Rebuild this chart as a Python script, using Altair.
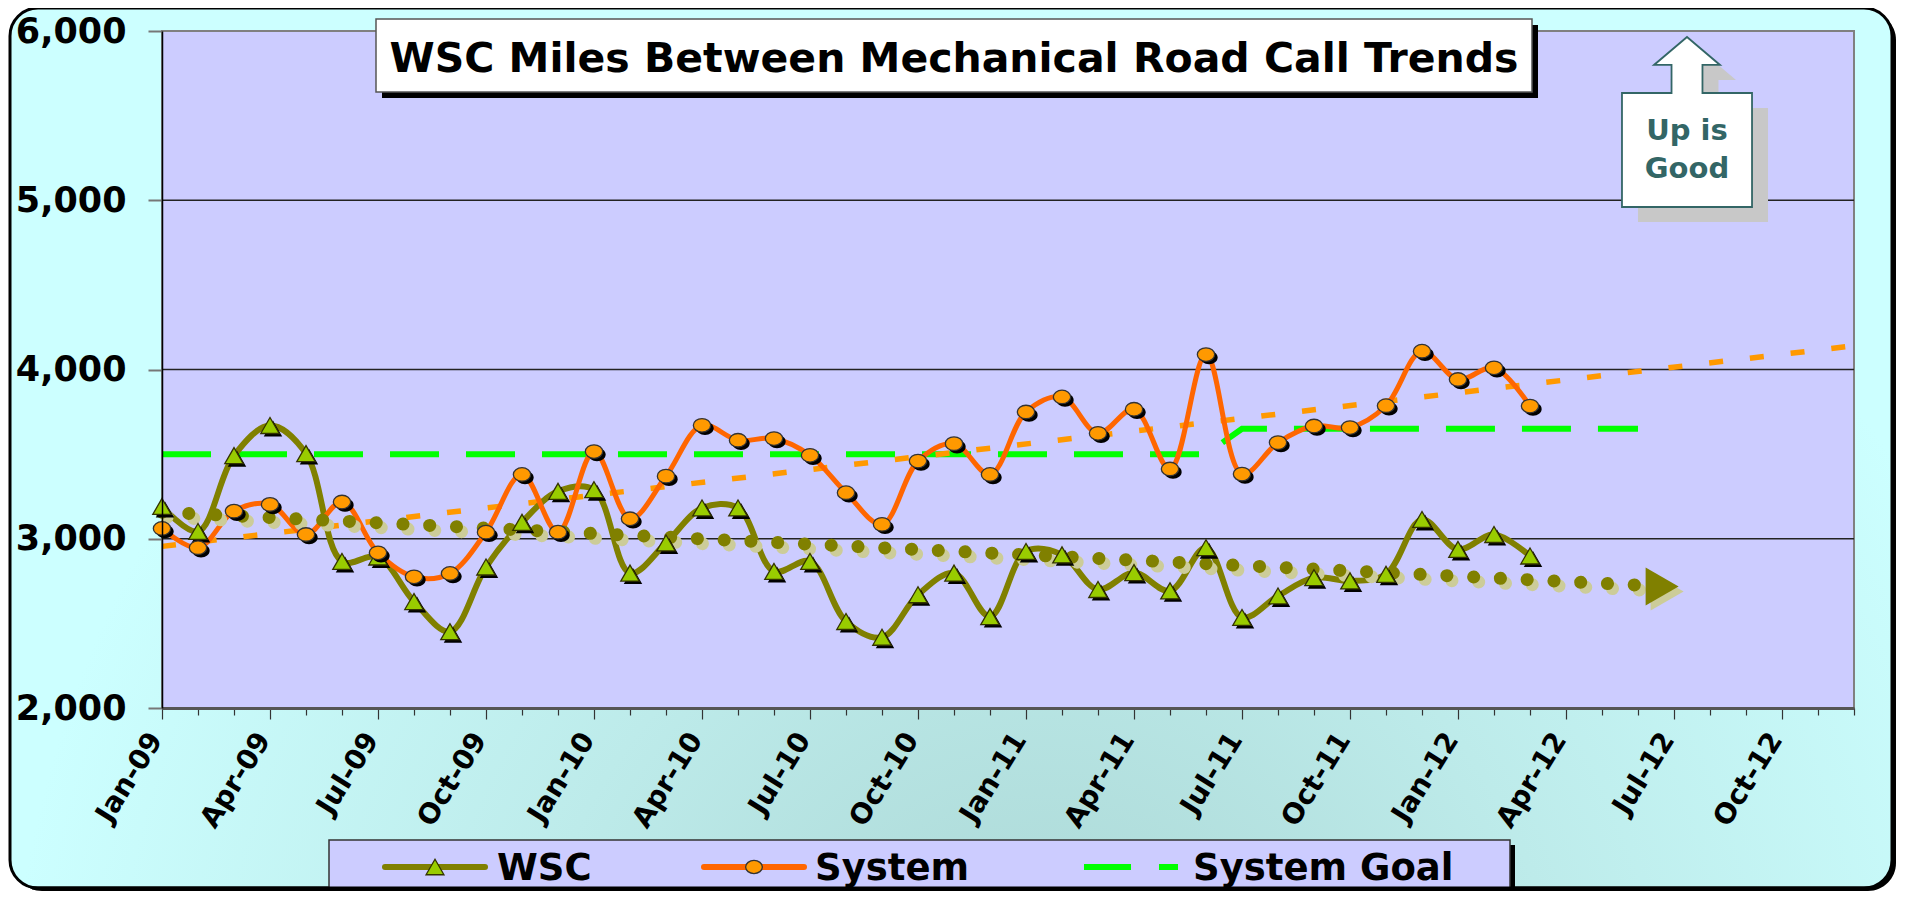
import json
import altair as alt
import pandas as pd

# ---------------- data ----------------
month_labels = [
    "Jan-09", "Feb-09", "Mar-09", "Apr-09", "May-09", "Jun-09", "Jul-09", "Aug-09", "Sep-09", "Oct-09", "Nov-09", "Dec-09",
    "Jan-10", "Feb-10", "Mar-10", "Apr-10", "May-10", "Jun-10", "Jul-10", "Aug-10", "Sep-10", "Oct-10", "Nov-10", "Dec-10",
    "Jan-11", "Feb-11", "Mar-11", "Apr-11", "May-11", "Jun-11", "Jul-11", "Aug-11", "Sep-11", "Oct-11", "Nov-11", "Dec-11",
    "Jan-12", "Feb-12", "Mar-12", "Apr-12", "May-12", "Jun-12", "Jul-12", "Aug-12", "Sep-12", "Oct-12", "Nov-12", "Dec-12",
]
wsc_values = [3191, 3043, 3491, 3669, 3503, 2866, 2892, 2629, 2451, 2833, 3097, 3280,
              3290, 2797, 2975, 3182, 3182, 2807, 2866, 2511, 2418, 2669, 2797, 2540,
              2925, 2905, 2700, 2800, 2692, 2947, 2535, 2662, 2770, 2751, 2790, 3114,
              2937, 3025, 2898]
system_values = [3061, 2947, 3163, 3203, 3025, 3217, 2917, 2775, 2795, 3039, 3380, 3039,
                 3515, 3118, 3370, 3670, 3582, 3592, 3493, 3272, 3085, 3459, 3562, 3380,
                 3749, 3838, 3623, 3765, 3412, 4088, 3382, 3568, 3666, 3657, 3786, 4108,
                 3941, 4010, 3784]
goal_values = [3500] * 30 + [3650] * 12
system_trend_months = [0, 47]
system_trend_values = [2955, 4140]
wsc_trend_months = [0, 41.2]
wsc_trend_values = [3157, 2724]
wsc_arrow_month = [41.67]
wsc_arrow_value = [2718]
gridline_values = [3000, 4000, 5000]
y_ticks = [2000, 3000, 4000, 5000, 6000]

title_text = "WSC Miles Between Mechanical Road Call Trends"
legend_names = ["WSC", "System", "System Goal"]

# ---------------- styling ----------------
FONT = "DejaVu Sans"
W, H = 1692, 677
OLIVE = "#808000"
LIME = "#99cc00"
ORANGE_LINE = "#ff6600"
ORANGE_FILL = "#ff9900"
GREEN = "#00ff00"

wsc_df = pd.DataFrame({"m": list(range(len(wsc_values))), "v": wsc_values})
sys_df = pd.DataFrame({"m": list(range(len(system_values))), "v": system_values})
goal_df = pd.DataFrame({"m": list(range(len(goal_values))), "v": goal_values})
strend_df = pd.DataFrame({"m": system_trend_months, "v": system_trend_values})
wtrend_df = pd.DataFrame({"m": wsc_trend_months, "v": wsc_trend_values})
arrow_df = pd.DataFrame({"m": wsc_arrow_month, "v": wsc_arrow_value})
grid_df = pd.DataFrame({"v": gridline_values})

label_expr = ("datum.value % 3 === 0 ? " + json.dumps(month_labels) + "[datum.value] : ''")

x_enc = alt.X(
    "m:Q",
    scale=alt.Scale(domain=[0, 47], nice=False, zero=False),
    axis=alt.Axis(
        values=list(range(48)), labelExpr=label_expr, labelAngle=-58,
        labelAlign="right", labelBaseline="middle", labelFont=FONT,
        labelFontSize=28, labelFontWeight="bold", labelColor="black",
        labelOverlap=False, labelFlush=False, labelPadding=16, labelOffset=-6,
        tickSize={"condition": {"test": "datum.value % 3 === 0", "value": 11}, "value": 7},
        tickColor="#333333", tickWidth=1.2,
        domainColor="#555555", domainWidth=3, grid=False, title=None, zindex=1,
    ),
)
y_enc = alt.Y(
    "v:Q",
    scale=alt.Scale(domain=[2000, 6000], nice=False, zero=False),
    axis=alt.Axis(
        values=y_ticks, format=",.0f", labelFont=FONT, labelFontSize=35,
        labelFontWeight="bold", labelColor="black", labelPadding=22,
        tickSize=14, tickColor="#777777", tickWidth=2,
        domainColor="black", domainWidth=1.5, grid=False, title=None, zindex=1,
    ),
)

dummy = alt.Data(values=[{"a": 1}])


def box(x1, x2, y1, y2, **mark):
    return alt.Chart(dummy).mark_rect(**mark).encode(
        x=alt.value(x1), x2=alt.value(x2), y=alt.value(y1), y2=alt.value(y2))


def hline(x1, x2, y, **mark):
    return alt.Chart(dummy).mark_rule(**mark).encode(
        x=alt.value(x1), x2=alt.value(x2), y=alt.value(y))


def label(txt, x, y, **mark):
    return alt.Chart(dummy).mark_text(text=txt, font=FONT, fontWeight="bold", **mark).encode(
        x=alt.value(x), y=alt.value(y))


def symbol(shape, x, y, **mark):
    return alt.Chart(dummy).mark_point(shape=shape, filled=True, opacity=1, **mark).encode(
        x=alt.value(x), y=alt.value(y))


bg_gradient = {
    "gradient": "radial", "x1": 0.55, "y1": 0.82, "r1": 0,
    "x2": 0.55, "y2": 0.82, "r2": 0.55,
    "stops": [{"offset": 0, "color": "#a9d5d3"}, {"offset": 0.5, "color": "#bdebea"},
              {"offset": 1, "color": "#ccffff"}],
}

BOTTOM = 857
layers = []
# outer chart background with rounded border
layers.append(box(-148, 1734, -19, BOTTOM + 3, fill="black", cornerRadius=28))
layers.append(box(-152, 1730, -23, BOTTOM, fill=bg_gradient, stroke="black", strokeWidth=3, cornerRadius=28))
# plot area
layers.append(box(0, W, 0, H, fill="#ccccff", stroke="#808080", strokeWidth=2))
# gridlines
layers.append(alt.Chart(grid_df).mark_rule(color="#222222", strokeWidth=1.4).encode(y=y_enc))

# goal line
layers.append(alt.Chart(goal_df).mark_line(color=GREEN, strokeWidth=6, strokeDash=[49, 27]).encode(x=x_enc, y=y_enc))
# system trend
layers.append(alt.Chart(strend_df).mark_line(color=ORANGE_FILL, strokeWidth=5.5, strokeDash=[14, 27]).encode(x=x_enc, y=y_enc))

# series lines
layers.append(alt.Chart(wsc_df).mark_line(color=OLIVE, strokeWidth=6, interpolate="catmull-rom").encode(x=x_enc, y=y_enc))
layers.append(alt.Chart(sys_df).mark_line(color=ORANGE_LINE, strokeWidth=5, interpolate="catmull-rom").encode(x=x_enc, y=y_enc))

# WSC trend (dotted with arrow head)
layers.append(alt.Chart(wtrend_df).mark_line(color="#cccc99", strokeWidth=13, strokeDash=[0.1, 26.7],
                                             strokeCap="round", xOffset=5, yOffset=5).encode(x=x_enc, y=y_enc))
layers.append(alt.Chart(wtrend_df).mark_line(color=OLIVE, strokeWidth=13, strokeDash=[0.1, 26.7],
                                             strokeCap="round").encode(x=x_enc, y=y_enc))
layers.append(alt.Chart(arrow_df).mark_point(shape="triangle-right", filled=True, opacity=1, color="#cccc99",
                                             size=1450, xOffset=5, yOffset=5).encode(x=x_enc, y=y_enc))
layers.append(alt.Chart(arrow_df).mark_point(shape="triangle-right", filled=True, opacity=1, color=OLIVE,
                                             size=1450).encode(x=x_enc, y=y_enc))

# markers
ELLIPSE = "M-1,0 A1,0.78 0 1,0 1,0 A1,0.78 0 1,0 -1,0 Z"
layers.append(alt.Chart(wsc_df).mark_point(shape="triangle-up", filled=True, opacity=1, color="black",
                                           size=340, xOffset=3, yOffset=3).encode(x=x_enc, y=y_enc))
layers.append(alt.Chart(wsc_df).mark_point(shape="triangle-up", filled=True, opacity=1, fill=LIME,
                                           stroke="#333300", strokeWidth=1.3, size=340).encode(x=x_enc, y=y_enc))
layers.append(alt.Chart(sys_df).mark_point(shape=ELLIPSE, filled=True, opacity=1, color="black",
                                           size=300, xOffset=3, yOffset=3).encode(x=x_enc, y=y_enc))
layers.append(alt.Chart(sys_df).mark_point(shape=ELLIPSE, filled=True, opacity=1, fill=ORANGE_FILL,
                                           stroke="#333333", strokeWidth=1.3, size=300).encode(x=x_enc, y=y_enc))

# title box
layers.append(box(220, 1376, -6, 67, fill="black"))
layers.append(box(214, 1370, -12, 61, fill="white", stroke="#555555", strokeWidth=1.5))
layers.append(label(title_text, 792, 41, fontSize=41, align="center", baseline="alphabetic", color="black"))

# "Up is Good" arrow box
ARROW = ("M0,-1 L0.388,-0.671 L0.182,-0.671 L0.182,-0.341 L0.765,-0.341 L0.765,1 "
         "L-0.765,1 L-0.765,-0.341 L-0.182,-0.341 L-0.182,-0.671 L-0.388,-0.671 Z")
layers.append(symbol(ARROW, 1541, 106, size=28900, color="#c8c8c8"))
layers.append(symbol(ARROW, 1525, 91, size=28900, fill="white", stroke="#336666", strokeWidth=1.8))
layers.append(label("Up is", 1525, 109, fontSize=29, align="center", baseline="alphabetic", color="#336666"))
layers.append(label("Good", 1525, 147, fontSize=29, align="center", baseline="alphabetic", color="#336666"))

# legend
LY = 836
layers.append(box(172, 1353, 814, BOTTOM, fill="black"))
layers.append(box(167, 1348, 809, BOTTOM, fill="#ccccff", stroke="#333333", strokeWidth=1.5))
layers.append(hline(223, 323, LY, color=OLIVE, strokeWidth=6, strokeCap="round"))
layers.append(symbol("triangle-up", 273, LY, size=320, fill=LIME, stroke="#333300", strokeWidth=1.3))
layers.append(label(legend_names[0], 335, LY + 13, fontSize=37, align="left", baseline="alphabetic", color="black"))
layers.append(hline(542, 642, LY, color=ORANGE_LINE, strokeWidth=6, strokeCap="round"))
layers.append(symbol(ELLIPSE, 592, LY, size=280, fill=ORANGE_FILL, stroke="#333333", strokeWidth=1.3))
layers.append(label(legend_names[1], 653, LY + 13, fontSize=37, align="left", baseline="alphabetic", color="black"))
layers.append(hline(922, 1016, LY, color=GREEN, strokeWidth=6, strokeDash=[47, 28]))
layers.append(label(legend_names[2], 1031, LY + 13, fontSize=37, align="left", baseline="alphabetic", color="black"))
# bottom border line over the legend
layers.append(hline(-130, 1710, BOTTOM, color="black", strokeWidth=3))

chart = alt.layer(*layers).properties(
    width=W, height=H,
    padding={"left": 154, "top": 23, "right": 48, "bottom": 183},
    autosize=alt.AutoSizeParams(type="none"),
    background="white",
).configure_view(stroke=None)

chart.save("out.html", embed_options={"renderer": "svg", "actions": False})
